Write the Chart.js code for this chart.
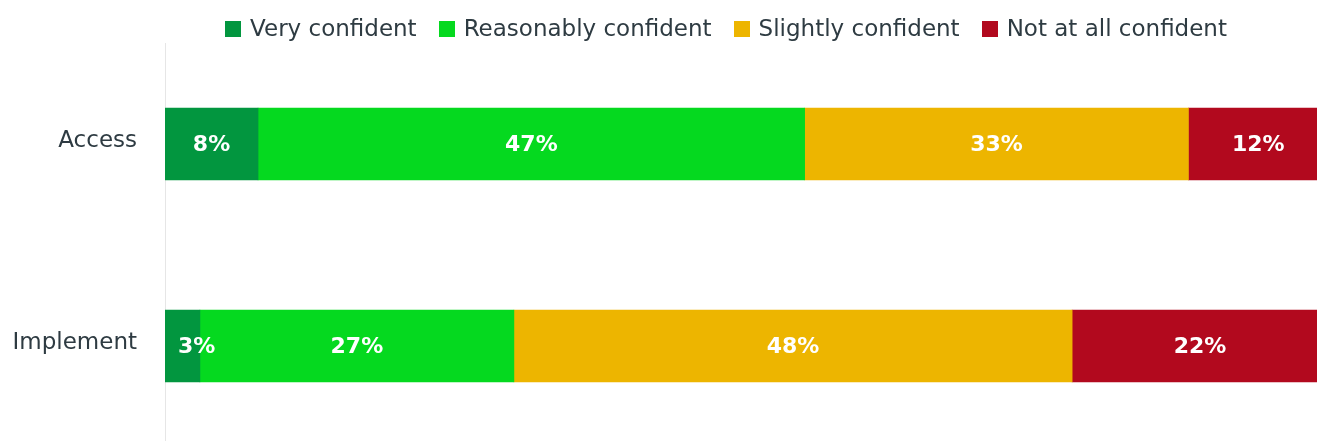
<!DOCTYPE html>
<html>
<head>
<meta charset="utf-8">
<script src="https://cdn.jsdelivr.net/npm/chart.js@4"></script>
<style>
  html, body { margin: 0; padding: 0; background: #fff; overflow: hidden; }
  .wrap { position: relative; width: 1317px; height: 441px; overflow: hidden; }
  .cbox { position: absolute; left: 0; top: 0; width: 1330px; height: 450px; }
  .legend {
    position: absolute; left: 0; top: 15px; width: 1452px; z-index: 2;
    display: flex; justify-content: center; align-items: center;
    font-family: 'DejaVu Sans', sans-serif; font-size: 23px; line-height: 27px; color: #2e3b42;
  }
  .legend .item { display: flex; align-items: center; margin: 0 11px; }
  .legend .box { width: 16px; height: 16px; margin-right: 9px; }
</style>
</head>
<body>
<div class="wrap">
  <div class="cbox"><canvas id="confChart"></canvas></div>
  <div class="legend" id="legend"></div>
</div>
<script>
// Data
const categories = ['Access', 'Implement'];
const seriesNames = ['Very confident', 'Reasonably confident', 'Slightly confident', 'Not at all confident'];
const veryConfident = [8, 3];
const reasonablyConfident = [47, 27];
const slightlyConfident = [33, 48];
const notConfident = [12, 22];
const seriesColors = ['#02963f', '#05d91f', '#edb500', '#b2091e'];

const seriesValues = [veryConfident, reasonablyConfident, slightlyConfident, notConfident];

// HTML legend
const legendEl = document.getElementById('legend');
seriesNames.forEach((name, i) => {
  const item = document.createElement('div');
  item.className = 'item';
  item.innerHTML = '<span class="box" style="background:' + seriesColors[i] + '"></span><span>' + name + '</span>';
  legendEl.appendChild(item);
});

// Percent labels inside the bars
const barLabels = {
  id: 'barLabels',
  afterDatasetsDraw(chart) {
    const ctx = chart.ctx;
    ctx.save();
    ctx.font = 'bold 22px "DejaVu Sans"';
    ctx.fillStyle = '#ffffff';
    ctx.textAlign = 'center';
    ctx.textBaseline = 'middle';
    chart.data.datasets.forEach((ds, di) => {
      chart.getDatasetMeta(di).data.forEach((bar, i) => {
        const text = ds.data[i] + '%';
        const w = ctx.measureText(text).width;
        const left = Math.min(bar.base, bar.x);
        const barW = Math.abs(bar.x - bar.base);
        let x = left + barW / 2;
        if (w > barW) x = left + w / 2 + 13;
        ctx.fillText(text, x, bar.y + 1);
      });
    });
    ctx.restore();
  }
};

new Chart(document.getElementById('confChart').getContext('2d'), {
  type: 'bar',
  data: {
    labels: categories,
    datasets: seriesNames.map((name, i) => ({
      label: name,
      data: seriesValues[i],
      backgroundColor: seriesColors[i],
      borderWidth: 0,
      barThickness: 72
    }))
  },
  options: {
    indexAxis: 'y',
    responsive: true,
    maintainAspectRatio: false,
    animation: false,
    layout: { padding: { top: 43, right: 2, bottom: 3, left: 0 } },
    plugins: {
      legend: { display: false },
      tooltip: { enabled: false }
    },
    scales: {
      x: {
        stacked: true,
        display: false,
        min: 0,
        max: 100
      },
      y: {
        stacked: true,
        afterFit(scale) {
          scale.width = 165;
          scale.paddingTop = 0;
          scale.paddingBottom = 0;
        },
        grid: { display: false, drawTicks: false },
        border: { display: true, color: '#e6e6e6', width: 1 },
        ticks: {
          padding: 28,
          labelOffset: -3,
          color: '#2e3b42',
          font: { family: 'DejaVu Sans', size: 23 }
        }
      }
    }
  },
  plugins: [barLabels]
});
</script>
</body>
</html>
